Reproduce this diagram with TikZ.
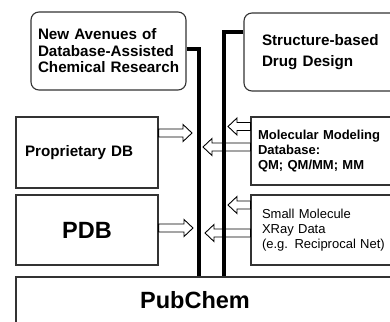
\documentclass[tikz,border=0pt]{standalone}
\usepackage{fontspec}
\setmainfont{Liberation Sans}
\usetikzlibrary{calc}

% hollow block arrow from tail #1 to tip #2 (horizontal)
\newcommand{\hollowarrow}[2]{%
  \draw[hollow] ($(#1)+(0,4pt)$) -- ($(#2)!9pt!(#1)+(0,4pt)$)
    -- ($(#2)!9pt!(#1)+(0,8.5pt)$) -- (#2)
    -- ($(#2)!9pt!(#1)-(0,8.5pt)$) -- ($(#2)!9pt!(#1)-(0,4pt)$)
    -- ($(#1)-(0,4pt)$) -- cycle;}

\tikzset{
  box/.style={draw=black!80, line width=1.1pt, inner ysep=0pt, align=left},
  roundbox/.style={box, rounded corners=8pt},
  hollow/.style={draw=black, line width=0.9pt, fill=white, line join=miter},
  bus/.style={line width=4pt, line join=miter},
  bigtxt/.style={font=\fontsize{15.2}{16.5}\selectfont\bfseries},
  midtxt/.style={font=\fontsize{13}{15}\selectfont\bfseries},
  smalltxt/.style={font=\fontsize{13}{15}\selectfont},
  hugetxt/.style={font=\fontsize{23.5}{26}\selectfont\bfseries}
}

\begin{document}
\begin{tikzpicture}[x=1pt, y=-1pt]
  \clip (0,0) rectangle (390,321);

  % boxes
  \node[roundbox, bigtxt, minimum height=78, inner xsep=7pt, text width=141pt]
    (avenues) at (108.5,51) {\mbox{New Avenues of}\\\mbox{Database-Assisted}\\\mbox{Chemical Research}};
  \node[roundbox, minimum height=78, inner xsep=18pt, text width=140pt,
    font=\fontsize{15.2}{21.5}\selectfont\bfseries]
    (drug) at (332,52) {Structure-based\\Drug Design};
  \node[box, bigtxt, minimum height=71, inner xsep=9pt, text width=124pt]
    (propdb) at (87,152.5) {Proprietary DB};
  \node[box, hugetxt, minimum height=70, minimum width=142, align=center]
    (pdb) at (87,230) {PDB};
  \node[box, midtxt, minimum height=68, inner xsep=7pt, text width=155pt]
    (molmod) at (335.5,151) {Molecular Modeling\\Database:\\QM; QM/MM; MM};
  \node[box, smalltxt, minimum height=70, inner xsep=11pt, text width=147pt]
    (xray) at (335.5,230) {Small Molecule\\XRay Data\\(e.g. Reciprocal Net)};
  \node[box, minimum height=63, minimum width=404] (pubchem) at (218,308.5) {};
  \node[hugetxt] (pubchemlbl) at (195,300) {PubChem};

  % arrows
  \coordinate (propTail) at (propdb.east |- 0,133);
  \coordinate (propTip) at (192,133);
  \coordinate (pdbTail) at (pdb.east |- 0,228);
  \coordinate (pdbTip) at (193,228);
  \coordinate (mmTailA) at (molmod.west |- 0,126.5);
  \coordinate (mmTipA) at (228,126.5);
  \coordinate (mmTailB) at (molmod.west |- 0,147);
  \coordinate (mmTipB) at (203,147);
  \coordinate (xrTailA) at (xray.west |- 0,205);
  \coordinate (xrTipA) at (228,205);
  \coordinate (xrTailB) at (xray.west |- 0,233);
  \coordinate (xrTipB) at (205,233);
  \hollowarrow{propTail}{propTip}
  \hollowarrow{pdbTail}{pdbTip}
  \hollowarrow{mmTailA}{mmTipA}
  \hollowarrow{mmTailB}{mmTipB}
  \hollowarrow{xrTailA}{xrTipA}
  \hollowarrow{xrTailB}{xrTipB}

  % trunk lines into PubChem
  \coordinate (busA) at (pubchem.north -| 199,0);
  \coordinate (busB) at (pubchem.north -| 224,0);
  \draw[bus] ([yshift=2pt]avenues.east) -| (busA);
  \draw[bus] ([yshift=-20pt]drug.north west) -| (busB);
\end{tikzpicture}
\end{document}
